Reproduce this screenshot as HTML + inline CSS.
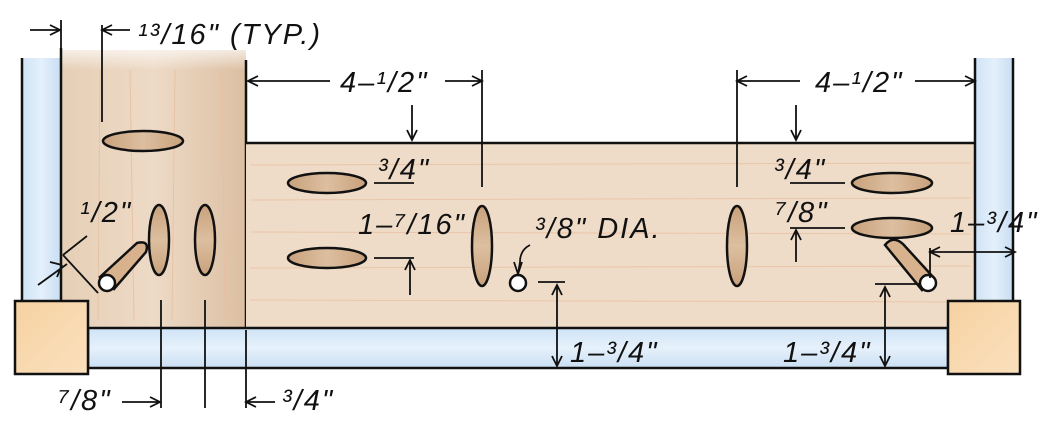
<!DOCTYPE html>
<html><head><meta charset="utf-8"><style>
html,body{margin:0;padding:0;background:#fff;}
svg{display:block;}
text{font-family:"Liberation Sans",sans-serif;font-style:italic;fill:#111;letter-spacing:2px;}
</style></head><body>
<svg width="1044" height="425" viewBox="0 0 1044 425" xmlns="http://www.w3.org/2000/svg">
<defs>
<linearGradient id="pl" x1="0" x2="1"><stop offset="0" stop-color="#e6cfb6"/><stop offset="0.5" stop-color="#eddac6"/><stop offset="1" stop-color="#dcbfa2"/></linearGradient>
<linearGradient id="hole" x1="0" x2="1"><stop offset="0" stop-color="#c9a17c"/><stop offset="0.5" stop-color="#dcbfa0"/><stop offset="1" stop-color="#c9a17c"/></linearGradient>
<linearGradient id="holev" x1="0" y1="0" x2="0" y2="1"><stop offset="0" stop-color="#c9a17c"/><stop offset="0.5" stop-color="#dcbfa0"/><stop offset="1" stop-color="#c9a17c"/></linearGradient>
<linearGradient id="blue" x1="0" x2="1"><stop offset="0" stop-color="#cfe3f6"/><stop offset="0.5" stop-color="#e4f0fb"/><stop offset="1" stop-color="#c8ddf3"/></linearGradient>
<linearGradient id="blueh" x1="0" y1="0" x2="0" y2="1"><stop offset="0" stop-color="#cfe3f6"/><stop offset="0.5" stop-color="#e6f1fb"/><stop offset="1" stop-color="#cadff3"/></linearGradient>
<linearGradient id="blk" x1="0" y1="0" x2="1" y2="1"><stop offset="0" stop-color="#f6d2a2"/><stop offset="1" stop-color="#fbe0bd"/></linearGradient>
<linearGradient id="fade" x1="0" y1="0" x2="0" y2="1"><stop offset="0" stop-color="#fff" stop-opacity="1"/><stop offset="1" stop-color="#fff" stop-opacity="0"/></linearGradient>
</defs>
<g stroke="#111" stroke-width="2.5" fill="none">
<rect x="61" y="50" width="185" height="278" fill="url(#pl)" stroke="none"/>
<rect x="55" y="40" width="200" height="30" fill="url(#fade)" stroke="none"/>
<line x1="246" y1="60" x2="246" y2="328"/>
<rect x="246" y="143" width="729" height="185" fill="#efdcc8" stroke="none"/>
<g stroke="#e8bfa0" stroke-width="1" opacity="0.8">
<line x1="250" y1="165" x2="970" y2="163"/><line x1="250" y1="200" x2="970" y2="198"/><line x1="250" y1="232" x2="970" y2="234"/><line x1="250" y1="268" x2="970" y2="266"/><line x1="250" y1="300" x2="970" y2="302"/>
<line x1="100" y1="70" x2="98" y2="320"/><line x1="130" y1="70" x2="134" y2="320"/><line x1="175" y1="70" x2="172" y2="320"/><line x1="222" y1="70" x2="225" y2="320"/>
</g>
<line x1="246" y1="143" x2="975" y2="143"/>
<rect x="88" y="328" width="860" height="40" fill="url(#blueh)"/>
<rect x="22" y="58" width="39" height="242" fill="url(#blue)" stroke="none"/>
<line x1="22" y1="58" x2="22" y2="300"/><line x1="61" y1="48" x2="61" y2="300"/>
<rect x="975" y="58" width="38" height="242" fill="url(#blue)" stroke="none"/>
<line x1="975" y1="58" x2="975" y2="300"/><line x1="1013" y1="58" x2="1013" y2="300"/>
<rect x="15" y="301" width="73" height="73" fill="url(#blk)"/>
<rect x="948" y="301" width="72" height="73" fill="url(#blk)"/>
<ellipse cx="143" cy="141" rx="40" ry="10" fill="url(#hole)"/>
<ellipse cx="159" cy="240" rx="10" ry="35" fill="url(#holev)"/>
<ellipse cx="205" cy="240" rx="10" ry="35" fill="url(#holev)"/>
<ellipse cx="327" cy="183" rx="39" ry="10" fill="url(#hole)"/>
<ellipse cx="327" cy="258" rx="39" ry="10" fill="url(#hole)"/>
<ellipse cx="482" cy="246" rx="10" ry="40" fill="url(#holev)"/>
<ellipse cx="737" cy="246" rx="10" ry="40" fill="url(#holev)"/>
<ellipse cx="892" cy="183" rx="40" ry="10" fill="url(#hole)"/>
<ellipse cx="892" cy="228" rx="40" ry="10" fill="url(#hole)"/>
<path d="M100 277 L137 243 Q150 240 146 252 L114 289 Z" fill="#d8b28d"/>
<circle cx="107" cy="283" r="8" fill="#fff"/>
<path d="M885 245 Q893 235 903 244 L934 278 L922 290 Z" fill="#d8b28d"/>
<circle cx="928" cy="283" r="8" fill="#fff"/>
<circle cx="518" cy="283" r="8" fill="#fff"/>
<g stroke-width="1.8">
<line x1="61" y1="20" x2="61" y2="50"/><path d="M30 30 L60 30 M50 25 L60 30 L50 35"/>
<line x1="102" y1="25" x2="102" y2="122"/><path d="M102 30 L130 30 M112 25 L102 30 L112 35"/>
<path d="M248 81 L330 81 M258 76 L248 81 L258 86"/><path d="M445 81 L482 81 M472 76 L482 81 L472 86"/><line x1="482" y1="70" x2="482" y2="187"/>
<line x1="737" y1="70" x2="737" y2="187"/><path d="M737 81 L800 81 M747 76 L737 81 L747 86"/><path d="M915 81 L975 81 M965 76 L975 81 L965 86"/>
<path d="M412 105 L412 140 M407 130 L412 140 L417 130"/><line x1="374" y1="183" x2="414" y2="183"/>
<line x1="374" y1="258" x2="414" y2="258"/><path d="M410 295 L410 260 M405 270 L410 260 L415 270"/>
<path d="M796 105 L796 140 M791 130 L796 140 L801 130"/><line x1="790" y1="183" x2="845" y2="183"/>
<line x1="790" y1="228" x2="845" y2="228"/><path d="M796 262 L796 230 M791 240 L796 230 L801 240"/>
<line x1="538" y1="282" x2="565" y2="282"/><path d="M557 285 L557 366 M552 295 L557 285 L562 295 M552 356 L557 366 L562 356"/>
<line x1="875" y1="284" x2="920" y2="284"/><path d="M885 287 L885 366 M880 297 L885 287 L890 297 M880 356 L885 366 L890 356"/>
<path d="M930 252 L1015 252 M940 247 L930 252 L940 257 M1005 247 L1015 252 L1005 257"/><line x1="930" y1="248" x2="930" y2="278"/>
<line x1="161" y1="300" x2="161" y2="408"/><line x1="205" y1="300" x2="205" y2="408"/><line x1="246" y1="330" x2="246" y2="408"/>
<path d="M122 402 L160 402 M150 397 L160 402 L150 407"/><path d="M246 402 L275 402 M256 397 L246 402 L256 407"/>
<path d="M63 255 L98 293 M63 255 L87 236 M67 264 L38 285 M62 265 L50 262 M62 265 L57 277"/>
<path d="M530 245 Q520 250 520 262 L518 274 M514 262 L518 274 L522 262"/>
</g>
</g>
<g font-size="29">
<text x="138" y="44">¹³/16" (TYP.)</text>
<text x="340" y="92">4–¹/2"</text>
<text x="815" y="92">4–¹/2"</text>
<text x="378" y="179">³/4"</text>
<text x="774" y="179">³/4"</text>
<text x="775" y="222">⁷/8"</text>
<text x="358" y="234">1–⁷/16"</text>
<text x="535" y="238">³/8" DIA.</text>
<text x="80" y="222">¹/2"</text>
<text x="950" y="232">1–³/4"</text>
<text x="570" y="362">1–³/4"</text>
<text x="783" y="362">1–³/4"</text>
<text x="58" y="410">⁷/8"</text>
<text x="282" y="410">³/4"</text>
</g>
</svg>
</body></html>
